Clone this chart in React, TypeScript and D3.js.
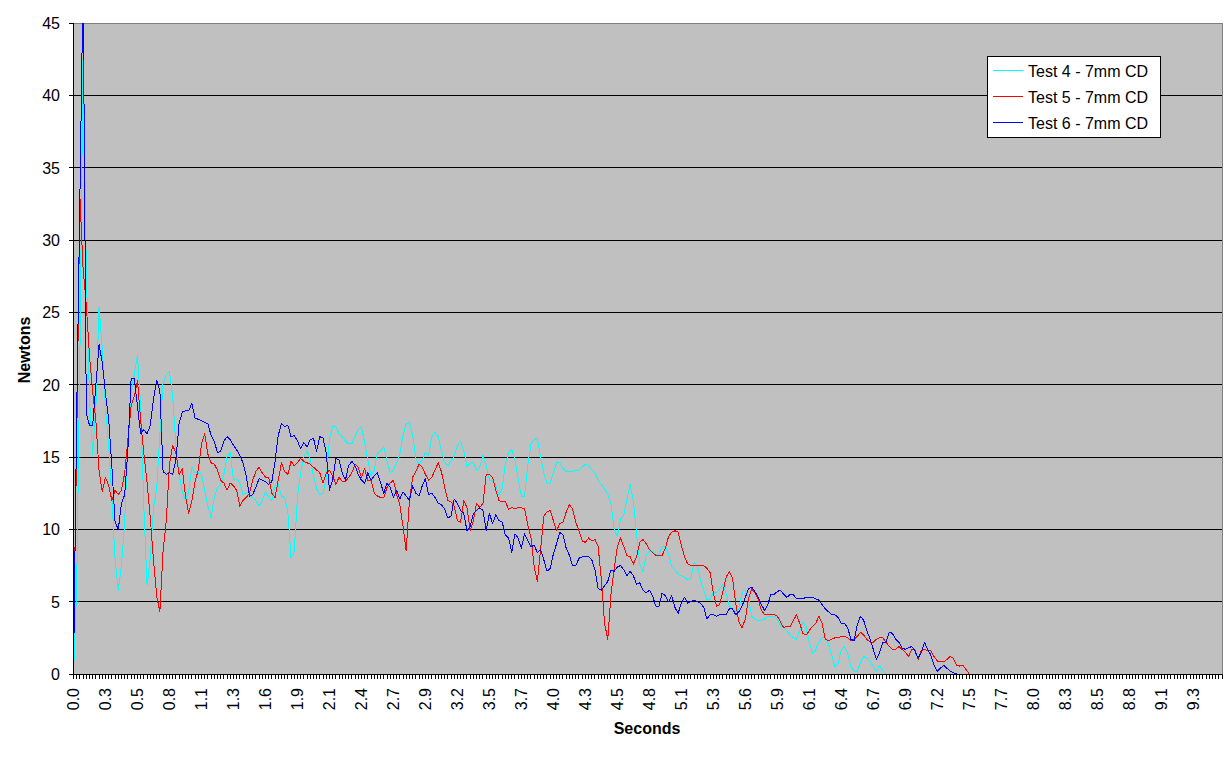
import React from 'react';
import * as d3 from 'd3';

// ---- categories / axis ----
const N_CATEGORIES = 360; // one category per sample (1/37.5 s)
const LABEL_EVERY = 10;
const TICK_LABELS = ["0.0","0.3","0.5","0.8","1.1","1.3","1.6","1.9","2.1","2.4","2.7","2.9","3.2","3.5","3.7","4.0","4.3","4.5","4.8","5.1","5.3","5.6","5.9","6.1","6.4","6.7","6.9","7.2","7.5","7.7","8.0","8.3","8.5","8.8","9.1","9.3"];
const Y_TICKS = [0, 5, 10, 15, 20, 25, 30, 35, 40, 45];
const Y_MAX = 45;

const SERIES_NAMES = ["Test 4 - 7mm CD", "Test 5 - 7mm CD", "Test 6 - 7mm CD"];
const SERIES_COLORS = ["#00FFFF", "#FF0000", "#0000FF"];

// ---- series values (Newtons), one per category ----
const TEST4 = [
  0, 6, 22, 43, 28, 19, 15.2, 18.5, 25.4, 22.5,
  18.3, 15.8, 12.2, 7.9, 5.8, 7.5, 10.5, 16, 19.5, 20.7,
  22, 18.5, 11.5, 6.1, 8, 11.5, 12.8, 16.6, 20.1, 20.7,
  20.9, 19.2, 15.8, 13.8, 12.6, 12, 12.6, 14.3, 13.9, 13.9,
  13.8, 12.7, 11.6, 10.8, 12.2, 12.9, 13.1, 13.8, 15, 15.3,
  13.4, 13.5, 13.2, 12.4, 12.5, 12.3, 12.2, 12, 11.6, 12,
  12.6, 12.2, 12, 13, 13.1, 12.3, 12.2, 11.2, 8, 8.5,
  12.2, 13.9, 15, 15.4, 14.9, 13.7, 12.8, 12.4, 12.5, 13.5,
  16.2, 17.1, 17.1, 16.6, 16.4, 16.1, 15.9, 15.9, 16.4, 16.9,
  17.1, 16.0, 14.8, 13.7, 14.1, 15.3, 15.4, 15.7, 14.7, 13.9,
  14.1, 14.6, 15.2, 16.5, 17.3, 17.4, 16.5, 14.9, 14.5, 14.8,
  15.3, 15.1, 16.4, 16.7, 16.4, 15.4, 14.6, 14.4, 14.7, 15.1,
  15.8, 16.1, 15.4, 14.3, 14.6, 14.6, 14.1, 14.3, 15.1, 14.4,
  13.4, 13.4, 13.0, 12.4, 12.8, 14.6, 15.3, 15.5, 14.8, 13.5,
  12.3, 12.3, 14.4, 15.9, 16.2, 16.3, 15.0, 13.9, 13.2, 13.2,
  13.9, 14.6, 14.6, 14.2, 14.0, 14.0, 14.0, 14.1, 14.1, 14.3,
  14.5, 14.4, 14.1, 13.9, 13.4, 13.1, 12.8, 12.4, 11.8, 10.0,
  9.5, 10.7, 11.0, 12.1, 13.1, 12.0, 9.7, 7.6, 7.1, 8.2,
  8.5, 8.5, 8.2, 8.3, 8.8, 8.8, 8.3, 7.4, 7.2, 6.9,
  6.8, 6.7, 6.5, 6.6, 7.7, 7.5, 6.5, 5.8, 5.1, 5.2,
  5.6, 5.6, 5.9, 6.2, 5.6, 4.7, 4.5, 4.3, 4.5, 5.6,
  5.8, 5.2, 4.0, 3.8, 3.7, 3.7, 3.8, 4.0, 4.0, 4.0,
  3.8, 3.3, 3.2, 3.0, 2.7, 2.5, 2.4, 3.0, 3.6, 3.2,
  2.2, 1.4, 1.7, 2.2, 2.5, 2.5, 2.1, 1.3, 0.5, 0.7,
  1.7, 1.9, 1.4, 0.5, 0.2, 0.2, 0.8, 1.2, 1.1, 0.9,
  0.5, 0.2, 0.6, 0.2, 0
];

const TEST5 = [
  2.3, 16, 33, 28, 25.5, 22, 19.5, 17.5, 14, 12.6,
  13.6, 13, 12, 12.7, 12.4, 12.7, 13.9, 16.2, 18.5, 19.2,
  20.3, 17.5, 15.2, 13.2, 10.8, 7.9, 5.4, 4.3, 8.5, 10.6,
  14.5, 15.8, 15.3, 13.8, 14.2, 12.3, 11.1, 12, 13.3, 14.1,
  15.9, 16.6, 15.2, 14.6, 14.5, 14.1, 13.4, 13.2, 12.7, 13.2,
  13, 12.7, 11.6, 12, 12.2, 12.5, 13.4, 14, 14.3, 13.9,
  13.6, 13.6, 12.5, 12.2, 13.4, 14.6, 14, 13.8, 14.7, 14.4,
  14.6, 14.9, 14.7, 14.6, 14.5, 14.3, 14.1, 13.9, 13.2, 13.9,
  14.1, 13.7, 13.1, 13.6, 13.3, 13.3, 13.6, 13.9, 14.5, 14.3,
  13.6, 14.2, 13.4, 13.4, 12.5, 12.3, 12.2, 12.2, 12.9, 13.2,
  13.4, 12.4, 11.7, 10.2, 8.5, 12.0, 13.6, 14.0, 14.5, 14.3,
  13.8, 13.4, 13.6, 14.1, 14.6, 14.0, 12.9, 12.0, 11.9, 11.6,
  10.6, 10.5, 12.0, 11.5, 9.9, 10.6, 11.8, 11.5, 11.8, 13.8,
  13.8, 13.6, 12.7, 12.0, 11.9, 11.9, 11.4, 11.5, 11.4, 11.5,
  11.5, 11.4, 10.3, 9.4, 7.4, 6.4, 8.6, 10.9, 11.2, 11.3,
  10.6, 9.9, 10.4, 10.5, 11.2, 11.7, 11.4, 10.5, 9.9, 9.2,
  9.1, 9.4, 9.2, 9.3, 8.8, 6.5, 3.5, 2.4, 5.5, 7.3,
  8.8, 9.4, 8.8, 8.2, 8.1, 7.6, 8.1, 9.1, 9.3, 9.0,
  8.6, 8.4, 8.2, 8.2, 8.2, 8.7, 9.5, 9.8, 9.9, 9.8,
  8.9, 8.1, 7.6, 7.5, 7.5, 7.5, 7.5, 7.5, 7.3, 7.0,
  5.6, 4.7, 4.8, 5.7, 6.7, 7.1, 6.6, 4.9, 3.6, 3.2,
  3.8, 5.2, 5.9, 5.6, 5.2, 4.4, 4.1, 4.1, 4.1, 4.1,
  4.0, 3.6, 3.2, 3.3, 3.3, 3.7, 4.1, 3.5, 2.8, 2.7,
  3.0, 3.3, 3.5, 4.0, 3.5, 2.4, 2.3, 2.4, 2.5, 2.5,
  2.6, 2.6, 2.5, 2.3, 2.4, 2.6, 2.9, 2.7, 2.4, 2.2,
  2.2, 2.4, 2.5, 2.5, 2.2, 1.9, 1.7, 1.7, 1.9, 1.7,
  1.5, 1.2, 1.7, 1.7, 1.0, 1.6, 1.7, 1.6, 1.6, 1.2,
  0.9, 0.85, 0.85, 1.0, 1.2, 1.1, 0.6, 0.55, 0.6, 0.3,
  0
];

const TEST6 = [
  0, 18, 33, 48, 18, 17.2, 17.2, 20, 22.8, 21.5,
  19.4, 17.6, 14.3, 10.5, 10.0, 11.8, 12.4, 15.5, 20.4, 20.4,
  18.5, 16.6, 16.9, 16.6, 17.2, 19, 20.3, 19.6, 14, 13.8,
  13.9, 13.8, 14.8, 17.3, 18.1, 18.2, 18.2, 18.7, 17.7, 17.6,
  17.5, 17.4, 17.3, 16.5, 16.1, 15.3, 15.4, 16.1, 16.4, 16.2,
  15.8, 15.5, 15.1, 14.6, 13.7, 12.3, 12.4, 12.9, 13.5, 13.4,
  13.3, 13.1, 13.3, 14.7, 16.5, 17.3, 17.1, 17.2, 16.4, 16.5,
  16.1, 15.6, 16, 15.7, 16.2, 16.3, 15.4, 16.4, 16.3, 15.3,
  12.7, 13.4, 14.9, 14.8, 13.9, 13.4, 14.4, 14.7, 14.4, 13.8,
  13.4, 13.2, 13.9, 13.4, 13.7, 13.9, 13.2, 12.5, 13.2, 12.9,
  12.2, 12.7, 12.1, 12.6, 12.3, 12.0, 13.0, 12.5, 12.3, 13.0,
  13.5, 12.4, 12.5, 12.2, 11.8, 11.7, 11.4, 10.8, 10.9, 12.1,
  11.8, 11.3, 11.1, 9.9, 10.2, 11.1, 11.3, 11.5, 11.3, 9.9,
  11.1, 10.4, 11.0, 10.6, 10.5, 9.6, 9.4, 8.4, 9.7, 9.4,
  8.7, 9.7, 9.2, 8.8, 8.9, 8.4, 8.6, 7.9, 7.1, 7.3,
  8.3, 9.0, 9.8, 9.6, 8.7, 8.2, 7.5, 7.5, 8.0, 8.1,
  8.1, 8.1, 7.9, 7.2, 5.9, 5.8, 6.1, 6.4, 7.2, 7.1,
  7.4, 7.5, 7.2, 6.8, 7.1, 6.8, 6.2, 6.3, 5.8, 5.6,
  5.8, 5.4, 4.7, 4.7, 5.6, 5.4, 5.0, 5.4, 4.6, 4.2,
  4.9, 5.3, 4.9, 5.0, 5.1, 5.0, 4.9, 4.6, 3.8, 4.1,
  4.1, 4.0, 4.1, 4.1, 4.1, 4.5, 4.5, 4.1, 4.3, 4.7,
  5.3, 5.9, 6.0, 5.7, 5.3, 4.8, 4.4, 4.8, 5.5, 5.5,
  5.7, 5.8, 5.5, 5.3, 5.5, 5.5, 5.2, 5.2, 5.2, 5.3,
  5.3, 5.3, 5.2, 5.1, 4.8, 4.5, 4.3, 4.1, 4.1, 3.9,
  3.5, 3.5, 3.2, 2.4, 2.3, 3.4, 4.0, 3.7, 3.0, 2.4,
  1.7, 1.0, 1.5, 2.2, 2.2, 2.9, 2.8, 2.4, 2.2, 1.8,
  1.7, 1.8, 1.9, 1.6, 1.1, 1.5, 2.2, 1.7, 1.3, 0.6,
  0.2, 0.4, 0.6, 0.4, 0.2, 0.1, 0
];

const SERIES = [TEST4, TEST5, TEST6];

const FONT = "Arial, 'Liberation Sans', Helvetica, sans-serif";

export default function App() {
  const W = 1231;
  const H = 758;
  const left = 73.5, right = 1222, top = 23, bottom = 674;

  const x = d3.scaleLinear().domain([0, N_CATEGORIES - 1]).range([left, right]);
  const y = d3.scaleLinear().domain([0, Y_MAX]).range([bottom, top]);
  const line = d3.line<number>().x((_, i) => x(i)).y(d => y(d));

  const catTicks = d3.range(N_CATEGORIES);

  const legend = { x: 987.5, y: 56.5, w: 173, h: 81, rowH: 26, row0: 70.5 };

  return (
    <svg width={W} height={H} style={{ position: 'absolute', left: 0, top: 0, display: 'block', background: '#fff' }}
      fontFamily={FONT}>
      <defs>
        <clipPath id="plotClip">
          <rect x={left} y={top} width={right - left} height={bottom - top} />
        </clipPath>
      </defs>
      <rect x={0} y={0} width={W} height={H} fill="#fff" />
      {/* plot area */}
      <rect x={left} y={top} width={right - left} height={bottom - top} fill="#C0C0C0" />
      {/* gridlines */}
      {Y_TICKS.filter(v => v > 0).map(v => (
        <line key={'g' + v} x1={left} x2={right} y1={y(v)} y2={y(v)} stroke="#000" strokeWidth={1} shapeRendering="crispEdges" />
      ))}
      {/* plot border top/right */}
      <line x1={left} x2={right} y1={top} y2={top} stroke="#808080" shapeRendering="crispEdges" />
      <line x1={right} x2={right} y1={top} y2={bottom} stroke="#808080" shapeRendering="crispEdges" />

      {/* series */}
      <g clipPath="url(#plotClip)">
        {SERIES.map((s, k) => (
          <path key={'s' + k} d={line(s) || ''} fill="none" stroke={SERIES_COLORS[k]} strokeWidth={1}
            strokeLinejoin="round" shapeRendering="crispEdges" />
        ))}
      </g>

      {/* axes */}
      <line x1={left} x2={left} y1={top} y2={bottom} stroke="#000" shapeRendering="crispEdges" />
      <line x1={left} x2={right} y1={bottom} y2={bottom} stroke="#000" shapeRendering="crispEdges" />
      {Y_TICKS.map(v => (
        <g key={'yt' + v}>
          <line x1={left - 5} x2={left} y1={y(v)} y2={y(v)} stroke="#000" shapeRendering="crispEdges" />
          <text x={60} y={y(v) + 6} textAnchor="end" fontSize={16} fill="#000">{v}</text>
        </g>
      ))}
      {catTicks.map(i => (
        <line key={'xt' + i} x1={x(i)} x2={x(i)} y1={bottom} y2={bottom + 5} stroke="#000" shapeRendering="crispEdges" />
      ))}
      {TICK_LABELS.map((lab, j) => {
        const xi = x(j * LABEL_EVERY);
        return (
          <text key={'xl' + j} transform={`translate(${xi + 5.5},688) rotate(-90)`} textAnchor="end" fontSize={16} fill="#000">{lab}</text>
        );
      })}

      {/* axis titles */}
      <text transform="translate(30,350) rotate(-90)" textAnchor="middle" fontSize={16} fontWeight="bold" fill="#000">Newtons</text>
      <text x={647} y={734} textAnchor="middle" fontSize={16} fontWeight="bold" fill="#000">Seconds</text>

      {/* legend */}
      <rect x={legend.x} y={legend.y} width={legend.w} height={legend.h} fill="#fff" stroke="#000" shapeRendering="crispEdges" />
      {SERIES_NAMES.map((name, k) => {
        const cy = legend.row0 + k * legend.rowH;
        return (
          <g key={'lg' + k}>
            <line x1={993} x2={1023} y1={cy} y2={cy} stroke={SERIES_COLORS[k]} strokeWidth={1} shapeRendering="crispEdges" />
            <text x={1028} y={cy + 6} fontSize={16} fill="#000">{name}</text>
          </g>
        );
      })}
    </svg>
  );
}
